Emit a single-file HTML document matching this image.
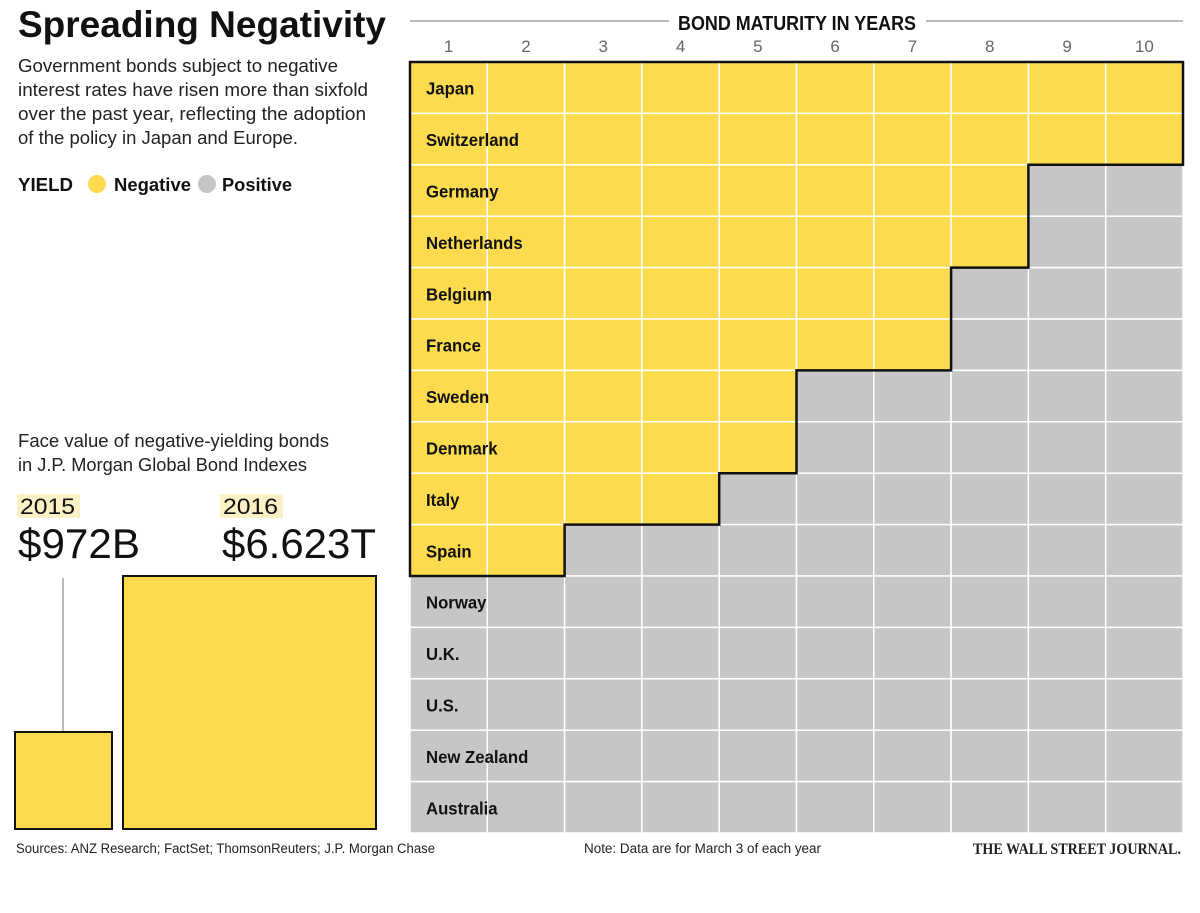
<!DOCTYPE html>
<html><head><meta charset="utf-8"><style>
body{margin:0;background:#fff;width:1200px;height:908px;overflow:hidden;font-family:"Liberation Sans",sans-serif;}
svg text{font-family:"Liberation Sans",sans-serif;}
</style></head><body>
<svg id="chart" width="1200" height="908" viewBox="0 0 1200 908" xmlns="http://www.w3.org/2000/svg">
<text x="18" y="37" font-size="37" font-weight="bold" fill="#111" textLength="368" lengthAdjust="spacingAndGlyphs">Spreading Negativity</text>
<g font-size="18" fill="#222">
<text x="18" y="72" textLength="320" lengthAdjust="spacingAndGlyphs">Government bonds subject to negative</text>
<text x="18" y="96" textLength="350" lengthAdjust="spacingAndGlyphs">interest rates have risen more than sixfold</text>
<text x="18" y="120" textLength="348" lengthAdjust="spacingAndGlyphs">over the past year, reflecting the adoption</text>
<text x="18" y="144" textLength="280" lengthAdjust="spacingAndGlyphs">of the policy in Japan and Europe.</text>
</g>
<g font-size="18" font-weight="bold" fill="#111">
<text x="18" y="191" textLength="55" lengthAdjust="spacingAndGlyphs">YIELD</text>
<circle cx="97" cy="184" r="9" fill="#fddb4e"/>
<text x="114" y="191" textLength="77" lengthAdjust="spacingAndGlyphs">Negative</text>
<circle cx="207" cy="184" r="9" fill="#c6c6c6"/>
<text x="222" y="191" textLength="70" lengthAdjust="spacingAndGlyphs">Positive</text>
</g>
<g font-size="18" fill="#222">
<text x="18" y="447" textLength="311" lengthAdjust="spacingAndGlyphs">Face value of negative-yielding bonds</text>
<text x="18" y="471" textLength="289" lengthAdjust="spacingAndGlyphs">in J.P. Morgan Global Bond Indexes</text>
</g>
<rect x="17" y="494" width="63" height="24" fill="#fcf1c4"/>
<text x="20" y="514" font-size="22" fill="#111" textLength="55" lengthAdjust="spacingAndGlyphs">2015</text>
<text x="18" y="558" font-size="42" fill="#111" textLength="122" lengthAdjust="spacingAndGlyphs">$972B</text>
<rect x="220" y="494" width="63" height="24" fill="#fcf1c4"/>
<text x="223" y="514" font-size="22" fill="#111" textLength="55" lengthAdjust="spacingAndGlyphs">2016</text>
<text x="222" y="558" font-size="42" fill="#111" textLength="154" lengthAdjust="spacingAndGlyphs">$6.623T</text>
<line x1="63" y1="578" x2="63" y2="732" stroke="#bbb" stroke-width="2"/>
<rect x="15" y="732" width="97" height="97" fill="#fddb4e" stroke="#111" stroke-width="2"/>
<rect x="123" y="576" width="253" height="253" fill="#fddb4e" stroke="#111" stroke-width="2"/>
<line x1="410" y1="21" x2="669" y2="21" stroke="#bbb" stroke-width="2"/>
<line x1="926" y1="21" x2="1183" y2="21" stroke="#bbb" stroke-width="2"/>
<text x="678" y="30" font-size="20" font-weight="bold" fill="#111" textLength="238" lengthAdjust="spacingAndGlyphs">BOND MATURITY IN YEARS</text>
<g id="grid"></g>
<g font-size="13.5" fill="#222">
<text x="16" y="853" textLength="419" lengthAdjust="spacingAndGlyphs">Sources: ANZ Research; FactSet; ThomsonReuters; J.P. Morgan Chase</text>
<text x="584" y="853" textLength="237" lengthAdjust="spacingAndGlyphs">Note: Data are for March 3 of each year</text>
<text x="973" y="854" style="font-family:'Liberation Serif',serif" font-size="16" font-weight="bold" textLength="208" lengthAdjust="spacingAndGlyphs">THE WALL STREET JOURNAL.</text>
</g>
</svg>
<script>
const countries = ["Japan","Switzerland","Germany","Netherlands","Belgium","France","Sweden","Denmark","Italy","Spain","Norway","U.K.","U.S.","New Zealand","Australia"];
const negativeYears = [10,10,8,8,7,7,5,5,4,2,0,0,0,0,0];
const maturities = [1,2,3,4,5,6,7,8,9,10];
const X0=410, X1=1183, Y0=62, Y1=833;
const cw=(X1-X0)/maturities.length, rh=(Y1-Y0)/countries.length;
const xs=i=>X0+i*cw, ys=j=>Y0+j*rh;
const NS="http://www.w3.org/2000/svg";
const g=document.getElementById('grid');
function mk(tag,attrs){const e=document.createElementNS(NS,tag);for(const k in attrs)e.setAttribute(k,attrs[k]);g.appendChild(e);return e;}
maturities.forEach((m,i)=>{
  const t=mk('text',{x:xs(i)+cw/2,y:52,'font-size':17,fill:'#666','text-anchor':'middle'});
  
  
  t.textContent=m;
});
countries.forEach((c,j)=>{
  maturities.forEach((m,i)=>{
    const r=mk('rect',{x:xs(i),y:ys(j),width:cw,height:rh,fill:i<negativeYears[j]?'#fddb4e':'#c6c6c6',stroke:'#fff','stroke-width':1.5});
    
    
  });
});
countries.forEach((c,j)=>{
  const t=mk('text',{x:426,y:ys(j)+rh/2+7,'font-size':18,'font-weight':'bold',fill:'#111',transform:`translate(426,0) scale(0.93,1) translate(-426,0)`});
  
  
  t.textContent=c;
});
let d=`M${xs(0)},${ys(0)}`;
const n=negativeYears.filter(v=>v>0).length;
for(let j=0;j<n;j++){
  d+=` H${xs(negativeYears[j])} V${ys(j+1)}`;
}
d+=` H${xs(0)} Z`;
const p=mk('path',{d:d,fill:'none',stroke:'#111','stroke-width':2.5});


</script>
</body></html>
